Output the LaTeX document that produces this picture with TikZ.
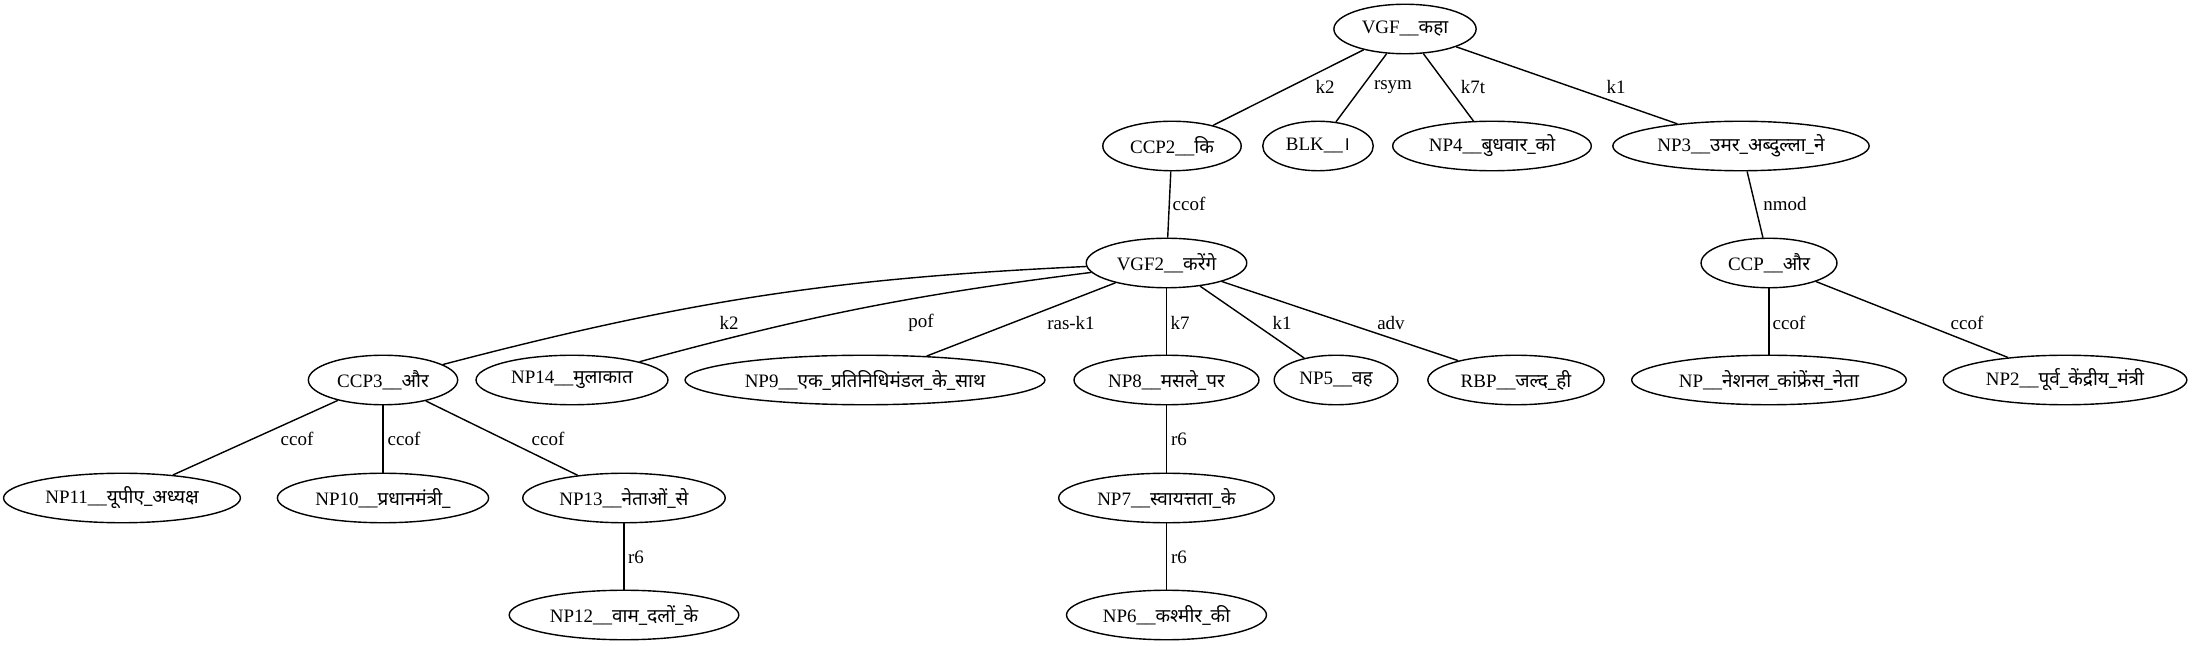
\documentclass[tikz,border=0pt]{standalone}
\usepackage{fontspec}
\setmainfont{Liberation Serif}
\newfontfamily\hindi[Script=Devanagari]{Noto Sans}
\usepackage{tikz}
\usetikzlibrary{shapes.geometric,positioning}
\newcommand{\hi}[1]{{\hindi #1}}

\begin{document}
\begin{tikzpicture}[line width=0.8pt,
  chunk/.style={draw, ellipse, inner xsep=4pt, inner ysep=0pt, minimum height=0.99cm, font=\fontsize{10.8}{12}\selectfont},
  rel/.style={inner sep=0pt, font=\fontsize{10.8}{12}\selectfont}
]
  \useasboundingbox (0,0) rectangle (44.16,12.90);

  % Root and its dependents
  \node[chunk] (vgf) at (28.10, 12.32) {VGF\_\_\hi{कहा}};
  \node[chunk] (ccp2) at (23.44, 9.98) {CCP2\_\_\hi{कि}};
  \node[chunk] (blk) at (26.36, 9.98) {BLK\_\_\hi{।}};
  \node[chunk] (np4) at (29.84, 9.98) {NP4\_\_\hi{बुधवार\_को}};
  \node[chunk] (np3) at (34.82, 9.98) {NP3\_\_\hi{उमर\_अब्दुल्ला\_ने}};

  % Third level
  \node[chunk] (vgf2) at (23.33, 7.64) {VGF2\_\_\hi{करेंगे}};
  \node[chunk] (ccp) at (35.38, 7.64) {CCP\_\_\hi{और}};

  % Fourth level
  \node[chunk] (ccp3) at (7.66, 5.30) {CCP3\_\_\hi{और}};
  \node[chunk] (np14) at (11.44, 5.30) {NP14\_\_\hi{मुलाकात}};
  \node[chunk] (np9) at (17.30, 5.30) {NP9\_\_\hi{एक\_प्रतिनिधिमंडल\_के\_साथ}};
  \node[chunk] (np8) at (23.33, 5.30) {NP8\_\_\hi{मसले\_पर}};
  \node[chunk] (np5) at (26.72, 5.30) {NP5\_\_\hi{वह}};
  \node[chunk] (rbp) at (30.32, 5.30) {RBP\_\_\hi{जल्द\_ही}};
  \node[chunk] (np) at (35.38, 5.30) {NP\_\_\hi{नेशनल\_कांफ्रेंस\_नेता}};
  \node[chunk] (np2) at (41.30, 5.30) {NP2\_\_\hi{पूर्व\_केंद्रीय\_मंत्री}};

  % Fifth and sixth level
  \node[chunk] (np11) at (2.44, 2.94) {NP11\_\_\hi{यूपीए\_अध्यक्ष}};
  \node[chunk] (np10) at (7.66, 2.94) {NP10\_\_\hi{प्रधानमंत्री\_}};
  \node[chunk] (np13) at (12.48, 2.94) {NP13\_\_\hi{नेताओं\_से}};
  \node[chunk] (np7) at (23.33, 2.94) {NP7\_\_\hi{स्वायत्तता\_के}};
  \node[chunk] (np12) at (12.48, 0.60) {NP12\_\_\hi{वाम\_दलों\_के}};
  \node[chunk] (np6) at (23.33, 0.60) {NP6\_\_\hi{कश्मीर\_की}};

  % Relations
  \draw (vgf) -- (ccp2);
  \draw (vgf) -- (blk);
  \draw (vgf) -- (np4);
  \draw (vgf) -- (np3);
  \draw (ccp2) -- (vgf2);
  \draw (np3) -- (ccp);
  \draw (vgf2) to[bend right=6] (ccp3);
  \draw (vgf2) to[bend right=4] (np14);
  \draw (vgf2) -- (np9);
  \draw (vgf2) -- (np8);
  \draw (vgf2) -- (np5);
  \draw (vgf2) -- (rbp);
  \draw (ccp) -- (np);
  \draw (ccp) -- (np2);
  \draw (ccp3) -- (np11);
  \draw (ccp3) -- (np10);
  \draw (ccp3) -- (np13);
  \draw (np8) -- (np7);
  \draw (np13) -- (np12);
  \draw (np7) -- (np6);

  % Relation labels
  \node[rel] (lK2) at (26.50, 11.16) {k2};
  \node[rel] (lRsym) at (27.86, 11.16) {rsym};
  \node[rel] (lK7t) at (29.46, 11.16) {k7t};
  \node[rel] (lK1) at (32.32, 11.16) {k1};
  \node[rel] (lCcofA) at (23.78, 8.82) {ccof};
  \node[rel] (lNmod) at (35.70, 8.82) {nmod};
  \node[rel] (lK2b) at (14.58, 6.44) {k2};
  \node[rel] (lPof) at (18.42, 6.44) {pof};
  \node[rel] (lRas) at (21.42, 6.44) {ras-k1};
  \node[rel] (lK7) at (23.60, 6.44) {k7};
  \node[rel] (lK1b) at (25.64, 6.44) {k1};
  \node[rel] (lAdv) at (27.82, 6.44) {adv};
  \node[rel] (lCcofB) at (35.78, 6.44) {ccof};
  \node[rel] (lCcofC) at (39.34, 6.44) {ccof};
  \node[rel] (lCcofD) at (5.94, 4.12) {ccof};
  \node[rel] (lCcofE) at (8.08, 4.12) {ccof};
  \node[rel] (lCcofF) at (10.96, 4.12) {ccof};
  \node[rel] (lR6a) at (23.58, 4.12) {r6};
  \node[rel] (lR6b) at (12.72, 1.76) {r6};
  \node[rel] (lR6c) at (23.58, 1.76) {r6};
\end{tikzpicture}
\end{document}
